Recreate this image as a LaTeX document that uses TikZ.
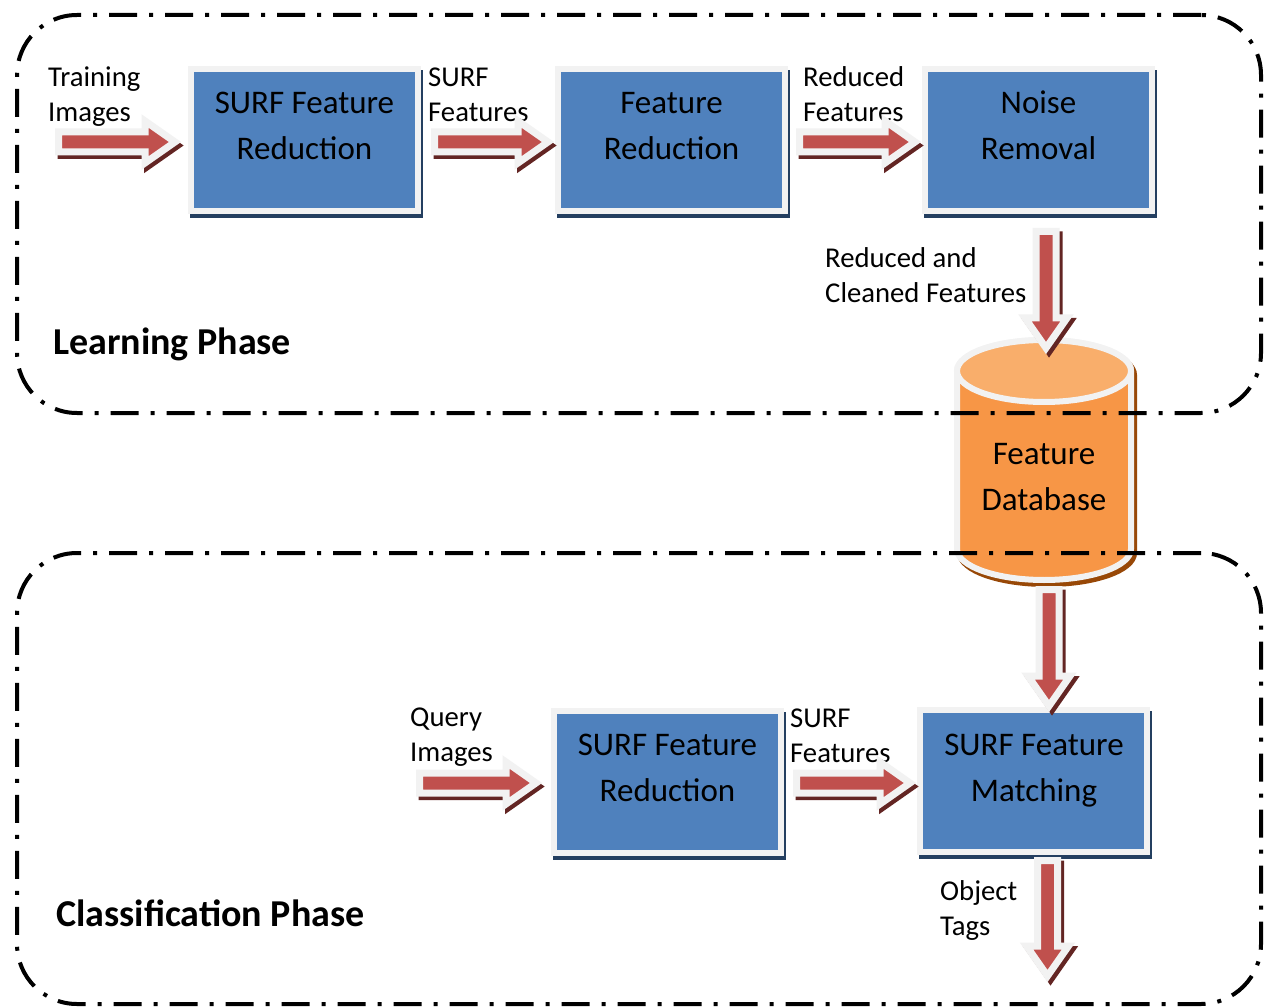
\documentclass[tikz,border=0pt]{standalone}
\usepackage{fontspec}
\setmainfont{Carlito}
\usetikzlibrary{calc,shadows}

\definecolor{boxblue}{HTML}{4F81BD}
\definecolor{framegray}{HTML}{F2F2F2}
\definecolor{boxshade}{HTML}{243F60}
\definecolor{arrowred}{HTML}{C0504D}
\definecolor{arrowshadow}{HTML}{632523}
\definecolor{dbbody}{HTML}{F79646}
\definecolor{dbtopfill}{HTML}{F9AE6B}
\definecolor{dbshade}{HTML}{984807}

\tikzset{
  procbox/.style={draw=framegray, fill=boxblue, line width=6pt,
    minimum width=227pt, minimum height=142pt, inner sep=0pt,
    general shadow={shadow xshift=2pt, shadow yshift=-4pt,
      draw=boxshade, fill=boxshade, line width=6pt}},
  boxtext/.style={font=\fontsize{33}{46}\selectfont, align=center, anchor=base, inner sep=0pt},
  lbl/.style={font=\fontsize{28.7}{35}\selectfont, align=left, anchor=base west, inner sep=0pt},
  phase/.style={font=\fontsize{38}{46}\selectfont\bfseries, anchor=base west, inner sep=0pt},
  arrowbody/.style={draw=framegray, fill=arrowred, line width=7pt, line join=miter},
  arrowshade/.style={draw=arrowshadow, fill=arrowshadow, line width=7pt, line join=miter},
  phasebox/.style={draw=black, line width=4pt, rounded corners=60pt,
    dash pattern=on 28pt off 12pt on 4pt off 12pt, inner sep=0pt},
}

% block arrow pointing right, from #1 to the tip #2 (same height)
\newcommand\harrow[2]{%
  \begin{scope}[transform canvas={shift={(2.5pt,-3.5pt)}}]
    \draw[arrowshade] ($(#1)+(0,-10)$) -- ($(#2)+(-30,-10)$) -- ($(#2)+(-30,-21)$)
      -- (#2) -- ($(#2)+(-30,21)$) -- ($(#2)+(-30,10)$) -- ($(#1)+(0,10)$) -- cycle;
  \end{scope}
  \draw[arrowbody] ($(#1)+(0,-10)$) -- ($(#2)+(-30,-10)$) -- ($(#2)+(-30,-21)$)
    -- (#2) -- ($(#2)+(-30,21)$) -- ($(#2)+(-30,10)$) -- ($(#1)+(0,10)$) -- cycle;
}
% block arrow pointing down, from #1 to the tip #2 (same column)
\newcommand\varrow[2]{%
  \begin{scope}[transform canvas={shift={(3pt,-3.5pt)}}]
    \draw[arrowshade] ($(#1)+(-10,0)$) -- ($(#2)+(-10,-30)$) -- ($(#2)+(-21,-30)$)
      -- (#2) -- ($(#2)+(21,-30)$) -- ($(#2)+(10,-30)$) -- ($(#1)+(10,0)$) -- cycle;
  \end{scope}
  \draw[arrowbody] ($(#1)+(-10,0)$) -- ($(#2)+(-10,-30)$) -- ($(#2)+(-21,-30)$)
    -- (#2) -- ($(#2)+(21,-30)$) -- ($(#2)+(10,-30)$) -- ($(#1)+(10,0)$) -- cycle;
}

\begin{document}
\begin{tikzpicture}[x=1pt, y=-1pt]
  \fill[white] (0,0) rectangle (1264,1008);
  \useasboundingbox (0,0) rectangle (1264,1008);

  % feature database cylinder
  \coordinate (dbtop) at (1044,340);
  \coordinate (dbbot) at (1044,580);
  \begin{scope}[transform canvas={shift={(3pt,-4pt)}}]
    \draw[dbshade, fill=dbshade, line width=6pt]
      (957,371) -- (957,549) arc[start angle=180, end angle=0, x radius=87, y radius=31]
      -- (1131,371) arc[start angle=0, end angle=-180, x radius=87, y radius=31] -- cycle;
  \end{scope}
  \draw[framegray, fill=dbbody, line width=6pt]
    (957,371) -- (957,549) arc[start angle=180, end angle=0, x radius=87, y radius=31]
    -- (1131,371) arc[start angle=0, end angle=-180, x radius=87, y radius=31] -- cycle;
  \draw[framegray, fill=dbtopfill, line width=6pt] (1044,371) ellipse[x radius=87, y radius=31];
  \node[boxtext] (db) at (1044,510) {Feature\\Database};

  % processing blocks
  \node[procbox] (b1) at (304.5,140.5) {};
  \node[procbox] (b2) at (671.5,140.5) {};
  \node[procbox] (b3) at (1038.5,140.5) {};
  \node[procbox] (b4) at (667.5,782) {};
  \node[procbox] (b5) at (1033,781) {};

  % block texts (anchored at the baseline of their last line)
  \node[boxtext] (b1t) at (304.5,160) {SURF Feature\\Reduction};
  \node[boxtext] (b2t) at (671.5,160) {Feature\\Reduction};
  \node[boxtext] (b3t) at (1038.5,160) {Noise\\Removal};
  \node[boxtext] (b4t) at (667.5,801) {SURF Feature\\Reduction};
  \node[boxtext] (b5t) at (1034,801) {SURF Feature\\Matching};

  % labels
  \node[lbl] (l1) at (48,122) {Training\\Images};
  \node[lbl] (l2) at (428,122) {SURF\\Features};
  \node[lbl] (l3) at (803,122) {Reduced\\Features};
  \node[lbl] (l4) at (825,303) {Reduced and\\Cleaned Features};
  \node[lbl] (l5) at (410,761) {Query\\Images};
  \node[lbl] (l6) at (790,762) {SURF\\Features};
  \node[lbl] (l7) at (940,935) {Object\\Tags};
  \node[phase] (p1) at (53,355) {Learning Phase};
  \node[phase] (p2) at (56,926) {Classification Phase};

  % arrow end points
  \coordinate (h1s) at (58.5,142);
  \coordinate (h1e) at ($(b1.west)+(-13,1.5)$);
  \coordinate (h2s) at ($(b1.east)+(13.5,1.5)$);
  \coordinate (h2e) at ($(b2.west)+(-7,1.5)$);
  \coordinate (h3s) at ($(b2.east)+(11.5,1.5)$);
  \coordinate (h3e) at ($(b3.west)+(-7,1.5)$);
  \coordinate (h4s) at (419.5,783);
  \coordinate (h4e) at ($(b4.west)+(-15,1)$);
  \coordinate (h5s) at ($(b4.east)+(12.5,1)$);
  \coordinate (h5e) at ($(b5.west)+(-6.5,2)$);
  \coordinate (v1s) at ($(b3.south)+(7.5,17)$);
  \coordinate (v1e) at ($(dbtop)+(2,8)$);
  \coordinate (v2s) at ($(dbbot)+(5,9.5)$);
  \coordinate (v2e) at ($(b5.north)+(16,-1)$);
  \coordinate (v3s) at ($(b5.south)+(14.5,5.5)$);
  \coordinate (v3e) at (1047.5,976);

  \harrow{h1s}{h1e}
  \harrow{h2s}{h2e}
  \harrow{h3s}{h3e}
  \harrow{h4s}{h4e}
  \harrow{h5s}{h5e}
  \varrow{v1s}{v1e}
  \varrow{v2s}{v2e}
  \varrow{v3s}{v3e}

  % phase frames
  \node[phasebox, minimum width=1244pt, minimum height=398pt] (learn) at (639,214) {};
  \node[phasebox, minimum width=1244pt, minimum height=451pt] (classify) at (639,778.5) {};
\end{tikzpicture}
\end{document}
